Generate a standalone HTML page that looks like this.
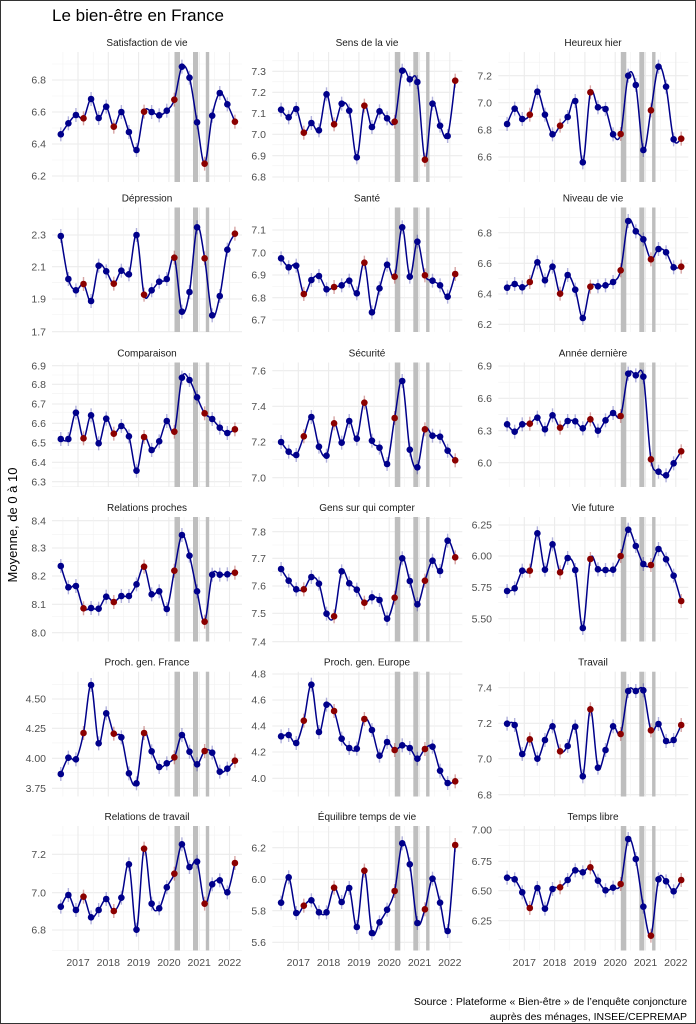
<!DOCTYPE html>
<html><head><meta charset="utf-8">
<style>
html,body{margin:0;padding:0;background:#fff;}
svg{display:block;}
.t{font-family:"Liberation Sans",sans-serif;}
.tk{font-size:10.5px;fill:#4d4d4d;text-anchor:end;}
.st{font-size:10px;fill:#1a1a1a;text-anchor:middle;}
.yr{font-size:10.5px;fill:#4d4d4d;text-anchor:middle;}
</style></head>
<body>
<svg id="s" width="696" height="1024" viewBox="0 0 696 1024" xmlns="http://www.w3.org/2000/svg">
<rect x="0" y="0" width="696" height="1024" fill="#fff"/>
<g id="grid"></g>
<g id="data"></g>
<g class="t">
<text x="52" y="21" style="font-size:17px;fill:#000">Le bien-être en France</text>
<text transform="translate(17,525) rotate(-90)" style="font-size:13px;fill:#000;text-anchor:middle">Moyenne, de 0 à 10</text>
<g class="st">
<text x="147" y="46">Satisfaction de vie</text>
<text x="367" y="46">Sens de la vie</text>
<text x="593" y="46">Heureux hier</text>
<text x="147" y="201.5">Dépression</text>
<text x="367" y="201.5">Santé</text>
<text x="593" y="201.5">Niveau de vie</text>
<text x="147" y="356.5">Comparaison</text>
<text x="367" y="356.5">Sécurité</text>
<text x="593" y="356.5">Année dernière</text>
<text x="147" y="511">Relations proches</text>
<text x="367" y="511">Gens sur qui compter</text>
<text x="593" y="511">Vie future</text>
<text x="147" y="665.7">Proch. gen. France</text>
<text x="367" y="665.7">Proch. gen. Europe</text>
<text x="593" y="665.7">Travail</text>
<text x="147" y="820">Relations de travail</text>
<text x="367" y="820">Équilibre temps de vie</text>
<text x="593" y="820">Temps libre</text>
</g>
<g class="tk">
<text x="46" y="83.7">6.8</text><text x="46" y="115.7">6.6</text><text x="46" y="147.7">6.4</text><text x="46" y="179.7">6.2</text>
<text x="266" y="75">7.3</text><text x="266" y="96">7.2</text><text x="266" y="117">7.1</text><text x="266" y="138">7.0</text><text x="266" y="159.4">6.9</text><text x="266" y="180.7">6.8</text>
<text x="492" y="79.4">7.2</text><text x="492" y="106.4">7.0</text><text x="492" y="133.7">6.8</text><text x="492" y="160.7">6.6</text>
<text x="46" y="238.7">2.3</text><text x="46" y="270.4">2.1</text><text x="46" y="302.7">1.9</text><text x="46" y="335.4">1.7</text>
<text x="266" y="233.7">7.1</text><text x="266" y="256.4">7.0</text><text x="266" y="278.7">6.9</text><text x="266" y="301.4">6.8</text><text x="266" y="323.7">6.7</text>
<text x="492" y="236.4">6.8</text><text x="492" y="267">6.6</text><text x="492" y="297.7">6.4</text><text x="492" y="328">6.2</text>
<text x="46" y="369.4">6.9</text><text x="46" y="388">6.8</text><text x="46" y="407.7">6.7</text><text x="46" y="427">6.6</text><text x="46" y="446.7">6.5</text><text x="46" y="466">6.4</text><text x="46" y="485.4">6.3</text>
<text x="266" y="374.4">7.6</text><text x="266" y="410">7.4</text><text x="266" y="445.7">7.2</text><text x="266" y="481.4">7.0</text>
<text x="492" y="369.7">6.9</text><text x="492" y="402">6.6</text><text x="492" y="434.4">6.3</text><text x="492" y="466.4">6.0</text>
<text x="46" y="524.4">8.4</text><text x="46" y="551.7">8.3</text><text x="46" y="579.7">8.2</text><text x="46" y="608">8.1</text><text x="46" y="636.4">8.0</text>
<text x="266" y="535.4">7.8</text><text x="266" y="562">7.7</text><text x="266" y="589.7">7.6</text><text x="266" y="617">7.5</text><text x="266" y="645.4">7.4</text>
<text x="492" y="528.7">6.25</text><text x="492" y="559.7">6.00</text><text x="492" y="591">5.75</text><text x="492" y="622.4">5.50</text>
<text x="46" y="702.7">4.50</text><text x="46" y="732">4.25</text><text x="46" y="762">4.00</text><text x="46" y="792">3.75</text>
<text x="266" y="677.7">4.8</text><text x="266" y="703.7">4.6</text><text x="266" y="729.7">4.4</text><text x="266" y="755.7">4.2</text><text x="266" y="782">4.0</text>
<text x="492" y="691.4">7.4</text><text x="492" y="727">7.2</text><text x="492" y="762.4">7.0</text><text x="492" y="798.4">6.8</text>
<text x="46" y="858">7.2</text><text x="46" y="896.4">7.0</text><text x="46" y="933.7">6.8</text>
<text x="266" y="851.4">6.2</text><text x="266" y="883">6.0</text><text x="266" y="914.4">5.8</text><text x="266" y="946">5.6</text>
<text x="492" y="833.7">7.00</text><text x="492" y="865">6.75</text><text x="492" y="894.4">6.50</text><text x="492" y="924.4">6.25</text>
</g>
<g class="yr">
<text x="78" y="966">2017</text><text x="108.3" y="966">2018</text><text x="138.6" y="966">2019</text><text x="168.9" y="966">2020</text><text x="199.2" y="966">2021</text><text x="229.5" y="966">2022</text>
<text x="298.3" y="966">2017</text><text x="328.6" y="966">2018</text><text x="358.9" y="966">2019</text><text x="389.2" y="966">2020</text><text x="419.5" y="966">2021</text><text x="449.8" y="966">2022</text>
<text x="524.3" y="966">2017</text><text x="554.6" y="966">2018</text><text x="584.9" y="966">2019</text><text x="615.2" y="966">2020</text><text x="645.5" y="966">2021</text><text x="675.8" y="966">2022</text>
</g>
<text x="687" y="1005" style="font-size:10.5px;fill:#000;text-anchor:end">Source : Plateforme « Bien-être » de l’enquête conjoncture</text>
<text x="687" y="1020" style="font-size:10.5px;fill:#000;text-anchor:end">auprès des ménages, INSEE/CEPREMAP</text>
</g>
<rect x="0.5" y="0.5" width="695" height="1023" fill="none" stroke="#333" stroke-width="1"/>
</svg>
<script>
var NS="http://www.w3.org/2000/svg";
var lefts=[52,272.3,498.3], W=190;
var tops=[52,207.5,362.5,517,671.7,826], bots=[182,332,487,641.5,796.5,950.5];
var P=[
[0,[403,370,345,355,297,354,320,380,336,396,450,335,336,346,332,299,200,233,367,491,347,279,313,365],[80,112,144,176]],
[30,[239,262,237,308,279,301,193,283,221,242,382,227,291,244,265,275,122,148,156,389,221,287,318,152],[71.3,92.3,113.3,134.3,155.7,177]],
[30,[282,236,267,254,185,254,313,287,261,213,397,187,232,237,313,312,137,165,360,241,110,170,328,326],[75.7,102.7,130,157]],
[185,[153,282,316,297,348,242,259,296,257,268,150,329,316,290,282,218,380,321,127,220,391,333,194,146],[235,266.7,299,331.7]],
[30,[685,712,707,792,750,738,778,771,766,752,790,698,847,775,704,740,592,740,635,736,752,766,800,732],[230,252.7,275,297.7,320]],
[30,[773,762,772,756,697,751,710,791,735,779,864,770,769,766,756,721,573,604,628,688,657,667,712,710],[232.7,263.3,294,324.3]],
[185,[762,762,683,760,691,775,701,746,723,754,857,756,795,769,708,740,578,585,637,685,702,728,744,733],[365.7,384.3,404,423.3,443,462.3,481.7]],
[340,[306,335,345,289,231,320,347,250,308,243,296,188,302,323,372,234,123,329,382,268,287,290,332,361],[370.7,406.3,442,477.7]],
[340,[253,275,253,251,233,268,226,263,243,244,265,238,272,241,219,228,101,106,110,358,395,406,370,334],[366,398.3,430.7,462.7]],
[490,[228,292,288,355,354,356,320,336,318,318,283,230,313,304,357,242,135,197,304,395,254,254,253,248],[520.7,548,576,604.3,632.7]],
[340,[687,722,748,748,711,731,821,829,694,730,749,788,772,780,836,773,655,723,793,722,662,693,602,652],[531.7,558.3,586,613.3,641.7]],
[340,[753,745,692,692,580,689,613,697,654,690,864,657,688,690,689,648,569,618,672,675,627,658,707,783],[525,556,587.3,618.7]],
[490,[852,803,808,729,585,760,670,731,742,850,880,729,784,831,820,802,735,785,823,783,788,845,836,812],[699,728.3,758.3,788.3]],
[650,[259,255,279,212,104,246,164,183,266,294,296,207,240,317,276,300,286,294,326,297,290,362,399,394],[674,700,726,752,778.3]],
[650,[221,225,312,268,326,270,229,304,288,230,379,178,353,300,229,252,123,123,121,241,222,273,270,225],[687.7,723.3,758.7,794.7]],
[800,[320,285,330,290,352,330,297,333,293,193,389,146,311,325,262,221,133,201,185,311,253,241,277,189],[854.3,892.7,930]],
[650,[758,682,789,767,751,787,787,713,756,714,831,662,849,817,779,723,580,643,819,778,686,758,843,585],[847.7,879.3,910.7,942.3]],
[650,[683,688,727,774,714,776,717,712,690,661,667,652,692,721,713,702,567,627,770,857,688,694,724,690],[830,861.3,890.7,920.7]]
];
var G=document.getElementById('grid'),D=document.getElementById('data');
function el(p,n,a){var e=document.createElementNS(NS,n);for(var k in a)e.setAttribute(k,a[k]);p.appendChild(e);return e;}
P.forEach(function(p,i){
 var c=i%3,r=Math.floor(i/3),L=lefts[c],T=tops[r],B=bots[r];
 var ticks=p[2],step=ticks[1]-ticks[0];
 for(var y=ticks[0]-step/2;y<=B;y+=step){ if(y>=T) el(G,'line',{x1:L,x2:L+W,y1:y,y2:y,stroke:'#f2f2f2','stroke-width':0.6}); }
 ticks.forEach(function(y){el(G,'line',{x1:L,x2:L+W,y1:y,y2:y,stroke:'#ebebeb','stroke-width':1.1});});
 for(var k=0;k<7;k++){var xm=L+10.9+30.3*k; if(xm<L+W) el(G,'line',{x1:xm,x2:xm,y1:T,y2:B,stroke:'#f2f2f2','stroke-width':0.6});
   var xM=L+26+30.3*k; if(xM<L+W) el(G,'line',{x1:xM,x2:xM,y1:T,y2:B,stroke:'#ebebeb','stroke-width':1.1});}
 [[122.5,128],[141,146],[153.8,157.2]].forEach(function(b){el(G,'rect',{x:L+b[0],y:T,width:b[1]-b[0],height:B-T,fill:'#bebebe'});});
 var pts=p[1].map(function(v,j){return [L+8.8+7.57*j,p[0]+v/3];});
 pts.forEach(function(q,j){var red=(j%4==3);
   el(D,'line',{x1:q[0],x2:q[0],y1:q[1]-7,y2:q[1]+7,stroke:red?'rgba(139,0,0,0.35)':'rgba(0,0,139,0.3)','stroke-width':1.4});});
 var d='M'+pts[0][0]+','+pts[0][1];
 for(var j=0;j<pts.length-1;j++){
   var p0=pts[Math.max(0,j-1)],p1=pts[j],p2=pts[j+1],p3=pts[Math.min(pts.length-1,j+2)];
   var c1x=p1[0]+(p2[0]-p0[0])/6,c1y=p1[1]+(p2[1]-p0[1])/6,c2x=p2[0]-(p3[0]-p1[0])/6,c2y=p2[1]-(p3[1]-p1[1])/6;
   d+=' C'+c1x+','+c1y+' '+c2x+','+c2y+' '+p2[0]+','+p2[1];
 }
 el(D,'path',{d:d,fill:'none',stroke:'#00008b','stroke-width':1.5});
 pts.forEach(function(q,j){el(D,'circle',{cx:q[0],cy:q[1],r:3.3,fill:(j%4==3)?'#8b0000':'#00008b'});});
});
</script>
</body></html>
